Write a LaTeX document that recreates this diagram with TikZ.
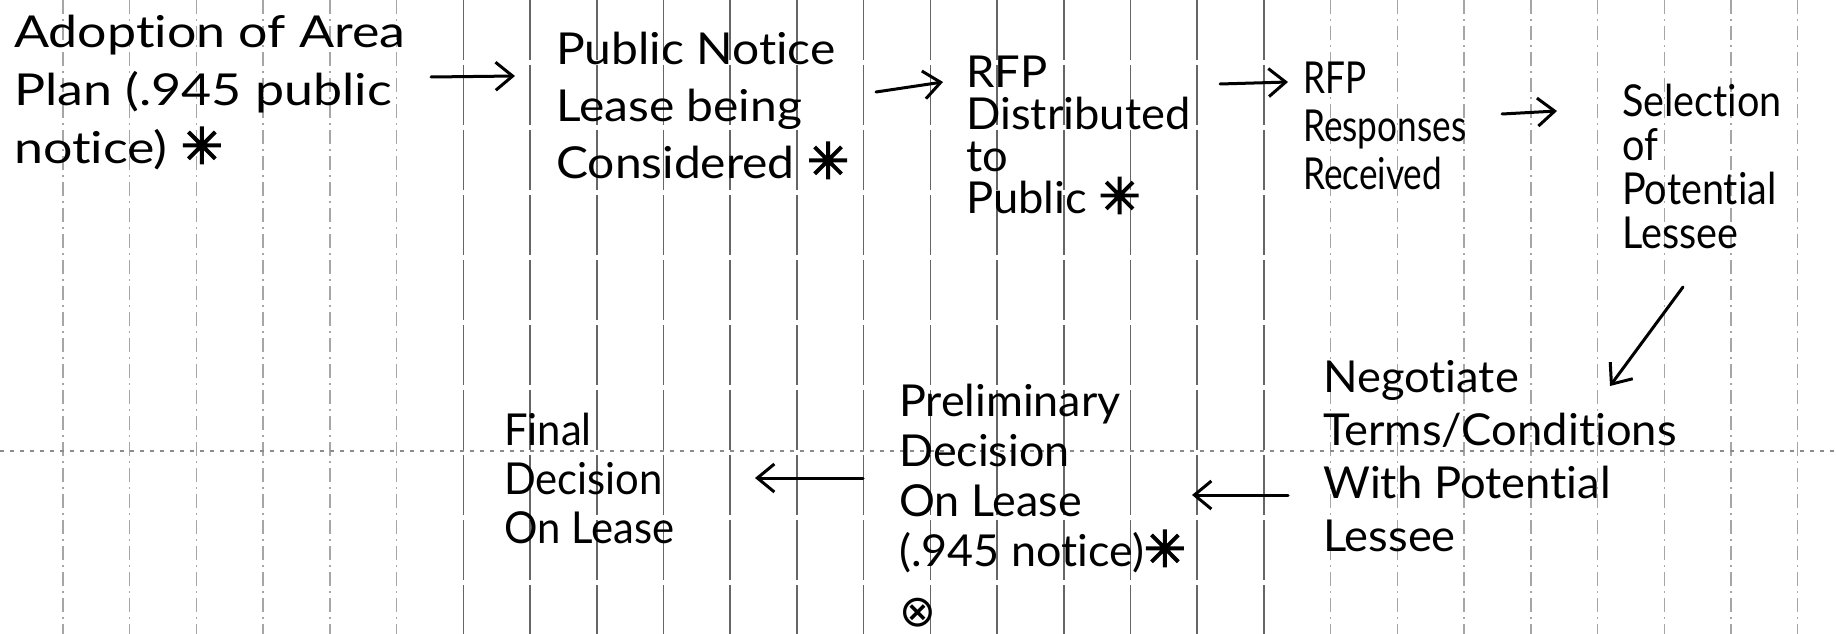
\documentclass[tikz,border=0pt]{standalone}
\usepackage{fontspec}
\setmainfont{Lato}[Ligatures=CommonOff]
\newfontfamily\symf{DejaVu Sans}
\newfontfamily\symfb{DejaVu Sans}[FakeBold=3]
\usetikzlibrary{arrows.meta}
\newcommand{\hast}{{\symfb\fontsize{50}{50}\selectfont ✳}}
\begin{document}
\begin{tikzpicture}[x=1pt,y=-1pt,
  lbl/.style 2 args={anchor=north west,inner sep=0pt,align=left,
    font=\fontsize{44}{#1}\selectfont\addfontfeatures{FakeStretch=#2}},
  arr/.style={-{Straight Barb[length=17pt,width=28pt,line width=3pt]},line width=3pt,line cap=round},
  gridsolid/.style={black!60,line width=1.6pt,dash pattern=on 60pt off 5pt},
  griddash/.style={black!35,line width=1.4pt,dash pattern=on 14pt off 5pt on 2pt off 5pt},
  gridh/.style={black!45,line width=1.4pt,dash pattern=on 4pt off 6pt}]
\useasboundingbox (0,0) rectangle (1836,634);
\fill[white] (0,0) rectangle (1836,634);
% ruled paper
\foreach \k in {0,...,5,19,20,21,22,23,24,25,26}{
  \draw[griddash] ({63+66.72*\k},0) -- ({63+66.72*\k},634);
}
\foreach \k in {6,...,18}{
  \draw[gridsolid] ({63+66.72*\k},0) -- ({63+66.72*\k},634);
}
\draw[gridh] (0,451) -- (1836,451);
% steps
\node[lbl={58}{1.18}] (n1) at (14,15) {Adoption of Area\\Plan (.945 public\\notice) \hast};
\node[lbl={57}{1.09}] (n2) at (556,32) {Public Notice\\Lease being\\Considered \hast};
\node[lbl={42}{1.03}] (n3) at (966,56) {RFP\\Distributed\\to\\Public \hast};
\node[lbl={48}{0.80}] (n4) at (1303,62) {RFP\\Responses\\Received};
\node[lbl={44}{0.90}] (n5) at (1622,84) {Selection\\of\\Potential\\Lessee};
\node[lbl={53}{1.03}] (n6) at (1323,360) {Negotiate\\Terms/Conditions\\With Potential\\Lessee};
\node[lbl={50}{1.02}] (n7) at (899,384) {Preliminary\\Decision\\On Lease\\(.945 notice)\hast\\[10pt]{\symf ⊗}};
\node[lbl={49}{0.95}] (n8) at (504,413) {Final\\Decision\\On Lease};
% arrows
\draw[arr] ([xshift=417pt,yshift=-62pt]n1.north west) -- ([xshift=-41pt,yshift=-44pt]n2.north west);
\draw[arr] ([xshift=320pt,yshift=-60pt]n2.north west) -- ([xshift=-23pt,yshift=-26pt]n3.north west);
\draw[arr] ([xshift=254pt,yshift=-28pt]n3.north west) -- ([xshift=-15pt,yshift=-20pt]n4.north west);
\draw[arr] ([xshift=199pt,yshift=-52pt]n4.north west) -- ([xshift=-65pt,yshift=-27pt]n5.north west);
\draw[arr] ([xshift=61pt,yshift=-203pt]n5.north west) -- ([xshift=287pt,yshift=-26pt]n6.north west);
\draw[arr] ([xshift=-35pt,yshift=-135pt]n6.north west) -- ([xshift=293pt,yshift=-111pt]n7.north west);
\draw[arr] ([xshift=-36pt,yshift=-94pt]n7.north west) -- ([xshift=251pt,yshift=-65pt]n8.north west);
\end{tikzpicture}
\end{document}
